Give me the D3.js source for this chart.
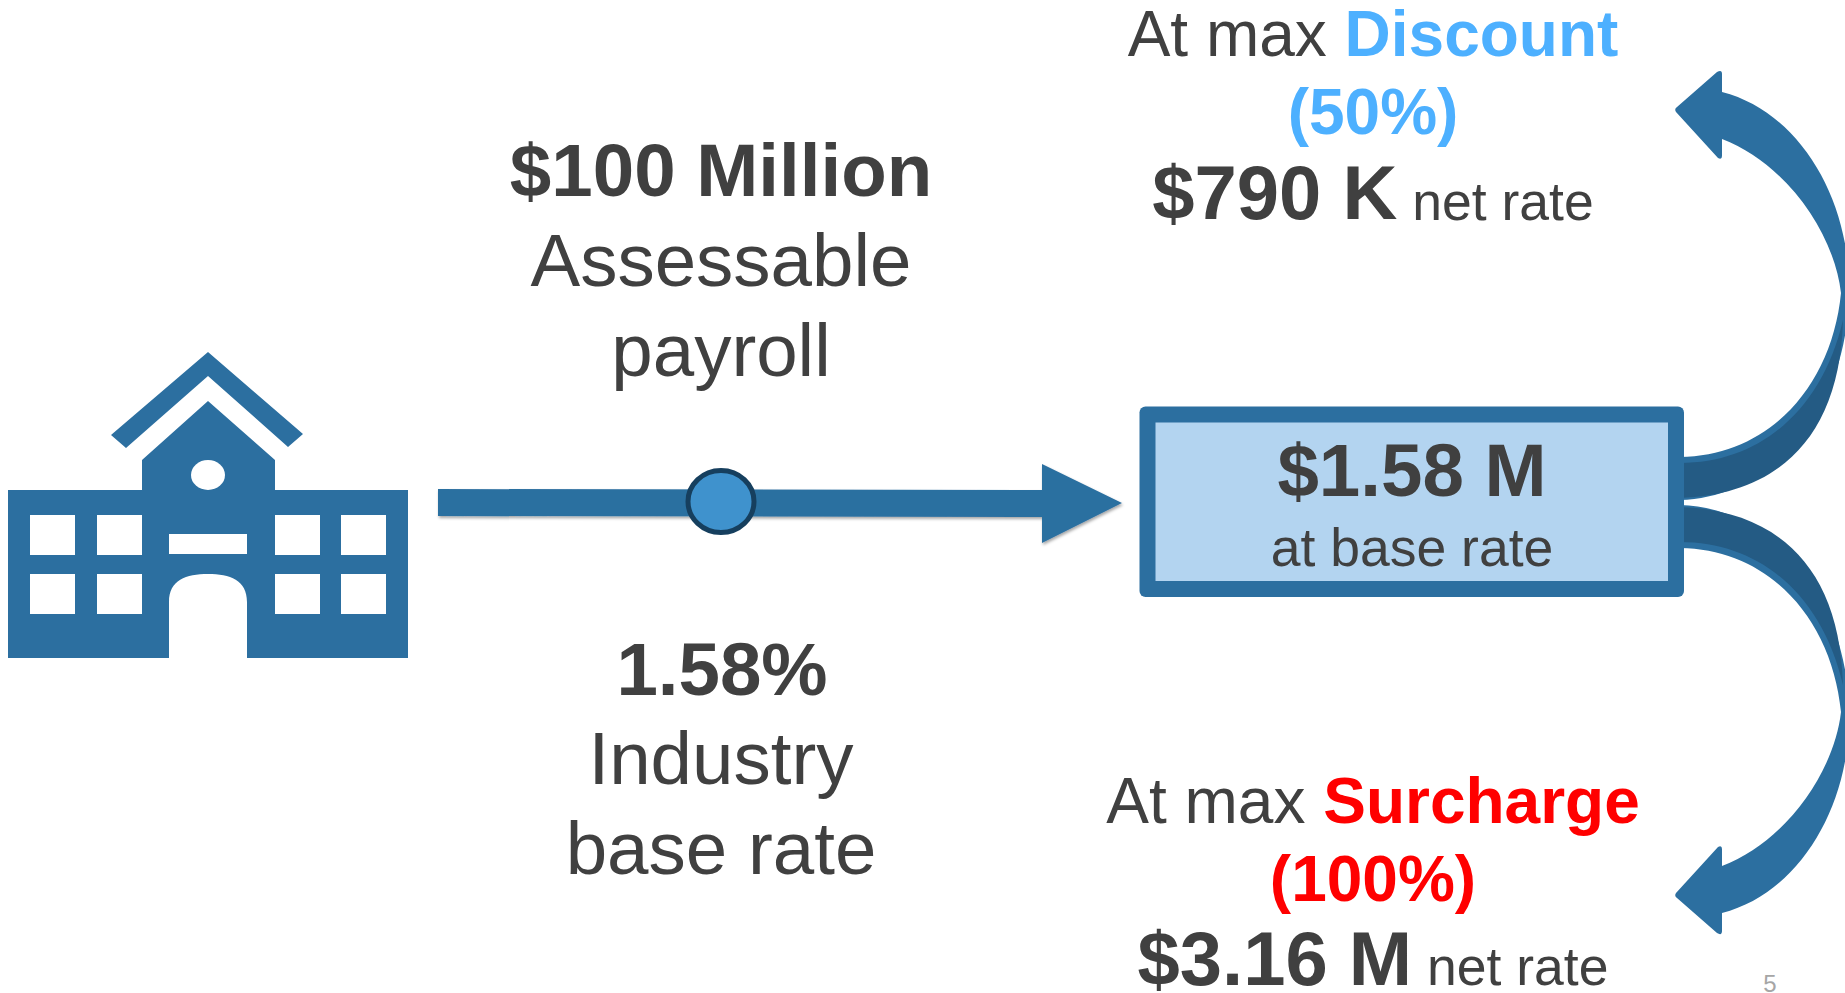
<!DOCTYPE html>
<html>
<head>
<meta charset="utf-8">
<script src="https://cdn.jsdelivr.net/npm/d3@7"></script>
<style>
  html, body { margin: 0; padding: 0; background: #fff; overflow: hidden; }
  text { font-family: "Liberation Sans", Arial, sans-serif; }
</style>
</head>
<body>
<div id="chart"></div>
<script>
const width = 1845, height = 993;

const BLUE = '#2c6fa0', DARK = '#245b84', PALE = '#b3d4f0', DOT = '#3f92cd', DOT_EDGE = '#163f5e';
const GREY = '#404040', SKY = '#4db0ff', RED = '#ff0000';

// Text, from the slide
const payrollLines = ['$100 Million', 'Assessable', 'payroll'];
const rateLines = ['1.58%', 'Industry', 'base rate'];
const baseLines = ['$1.58 M', 'at base rate'];
const discountLines = ['At max ', 'Discount', '(50%)', '$790 K', ' net rate'];
const surchargeLines = ['At max ', 'Surcharge', '(100%)', '$3.16 M', ' net rate'];
const pageNumber = '5';

const svg = d3.select('#chart').append('svg')
    .attr('width', width)
    .attr('height', height)
    .attr('viewBox', [0, 0, width, height]);

const defs = svg.append('defs');
const shadow = defs.append('filter').attr('id', 'shadow').attr('x', '-5%').attr('y', '-20%').attr('width', '110%').attr('height', '150%');
shadow.append('feDropShadow').attr('dx', 1).attr('dy', 2).attr('stdDeviation', 1.5).attr('flood-color', '#000').attr('flood-opacity', 0.35);

// Building
const building = svg.append('g').attr('fill', BLUE);
building.append('path').attr('d', 'M208 352 L303 434 L288 447 L208 376 L126 448 L111 435 Z');
building.append('path').attr('fill-rule', 'evenodd').attr('d',
    'M8 490 H142 V460 L208 401 L275 460 V490 H408 V658 H247 V602 C247 580 230 574 208 574 C186 574 169 580 169 602 V658 H8 Z');
const panes = [[30, 515], [97, 515], [275, 515], [341, 515], [30, 574], [97, 574], [275, 574], [341, 574]];
building.selectAll('rect.pane').data(panes).join('rect')
    .attr('class', 'pane')
    .attr('x', d => d[0]).attr('y', d => d[1])
    .attr('width', 45).attr('height', 40)
    .attr('fill', '#fff');
building.append('rect').attr('x', 169).attr('y', 534).attr('width', 78).attr('height', 20).attr('fill', '#fff');
building.append('ellipse').attr('cx', 208).attr('cy', 475).attr('rx', 17).attr('ry', 15).attr('fill', '#fff');

// Main arrow
svg.append('path')
    .attr('d', 'M438 489 L1042 490 V464 L1122 503 L1042 543 V517 L438 516 Z')
    .attr('fill', BLUE)
    .style('filter', 'url(#shadow)');
svg.append('ellipse')
    .attr('cx', 721).attr('cy', 501.5).attr('rx', 33).attr('ry', 31)
    .attr('fill', DOT).attr('stroke', DOT_EDGE).attr('stroke-width', 5);

// Curved arrows, the lower one is the upper one mirrored
function curvedArrow(g) {
    g.append('path').attr('fill', BLUE).attr('d',
        'M1680 457 C1770 456 1832 385 1841 293 C1834 232 1785 163 1722 139 V156 Q1722 160 1718 158 ' +
        'L1676 112 Q1674 109 1677 107 L1717 72 Q1722 69 1722 74 V92 C1800 112 1850 200 1849 290 ' +
        'C1849 400 1780 497 1680 500 Z');
    g.append('path').attr('fill', DARK).attr('d',
        'M1680 463 C1760 463 1822 410 1843 320 C1840 440 1775 495 1680 498 Z');
}
curvedArrow(svg.append('g'));
curvedArrow(svg.append('g').attr('transform', 'translate(0,1005) scale(1,-1)'));

// Base rate box
svg.append('rect')
    .attr('x', 1139.5).attr('y', 406.5).attr('width', 544.5).attr('height', 190.5).attr('rx', 6)
    .attr('fill', BLUE);
svg.append('rect')
    .attr('x', 1155.5).attr('y', 422.5).attr('width', 512.5).attr('height', 158.5)
    .attr('fill', PALE);

// Text
const big = 74.5;
function label(x, y, size, weight, fill, str) {
    return svg.append('text')
        .attr('x', x).attr('y', y).attr('text-anchor', 'middle')
        .attr('font-size', size).attr('font-weight', weight).attr('fill', fill)
        .text(str);
}
label(721, 196, big, 'bold', GREY, payrollLines[0]);
label(721, 286, big, 'normal', GREY, payrollLines[1]);
label(721, 376, big, 'normal', GREY, payrollLines[2]);
label(722, 694.5, big, 'bold', GREY, rateLines[0]);
label(721, 784, big, 'normal', GREY, rateLines[1]);
label(721, 874, big, 'normal', GREY, rateLines[2]);
label(1412, 496, big, 'bold', GREY, baseLines[0]);
label(1412, 566, 53.5, 'normal', GREY, baseLines[1]);

function mixedLine(y, parts) {
    const t = svg.append('text').attr('x', 1373).attr('y', y).attr('text-anchor', 'middle').attr('xml:space', 'preserve');
    parts.forEach(p => t.append('tspan')
        .attr('font-size', p.size).attr('font-weight', p.weight).attr('fill', p.fill)
        .attr('dy', p.dy || 0)
        .text(p.str));
}
mixedLine(56, [{ str: discountLines[0], size: 64, weight: 'normal', fill: GREY }, { str: discountLines[1], size: 64, weight: 'bold', fill: SKY }]);
label(1373, 134, 64, 'bold', SKY, discountLines[2]);
mixedLine(219, [{ str: discountLines[3], size: 76, weight: 'bold', fill: GREY }, { str: discountLines[4], size: 53.5, weight: 'normal', fill: GREY, dy: 1 }]);
mixedLine(823, [{ str: surchargeLines[0], size: 64, weight: 'normal', fill: GREY }, { str: surchargeLines[1], size: 64, weight: 'bold', fill: RED }]);
label(1373, 901, 64, 'bold', RED, surchargeLines[2]);
mixedLine(985, [{ str: surchargeLines[3], size: 76, weight: 'bold', fill: GREY }, { str: surchargeLines[4], size: 53.5, weight: 'normal', fill: GREY }]);

label(1770, 992, 24, 'normal', '#a6a6a6', pageNumber);
</script>
</body>
</html>
